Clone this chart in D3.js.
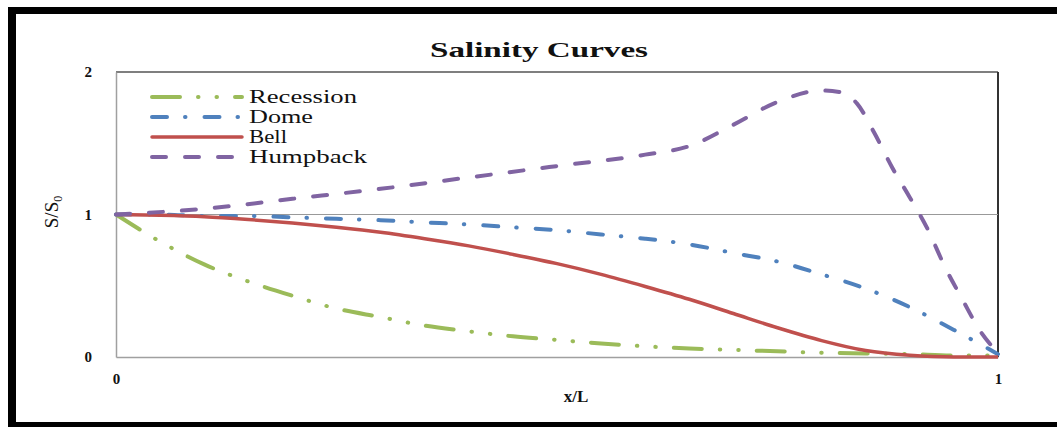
<!DOCTYPE html>
<html>
<head>
<meta charset="utf-8">
<script src="https://cdn.jsdelivr.net/npm/d3@7"></script>
<style>
  html, body { margin: 0; padding: 0; background: #fff; }
  svg { display: block; }
  text { font-family: "Liberation Serif", "Times New Roman", serif; fill: #111; }
</style>
</head>
<body>
<svg id="chart" width="1057" height="427"></svg>
<script>
// Positions along the channel (x/L)
const xs = [0, 0.05, 0.1, 0.15, 0.2, 0.25, 0.3, 0.35, 0.4, 0.45, 0.5, 0.55, 0.6, 0.65, 0.7, 0.75, 0.8, 0.85, 0.9, 0.95, 1];
const recession = [1, 0.81, 0.65, 0.53, 0.43, 0.34, 0.28, 0.22, 0.18, 0.145, 0.12, 0.095, 0.075, 0.06, 0.05, 0.04, 0.03, 0.025, 0.02, 0.01, 0.01];
const dome = [1, 1.0, 0.99, 0.99, 0.98, 0.97, 0.96, 0.945, 0.93, 0.91, 0.89, 0.86, 0.83, 0.79, 0.73, 0.67, 0.58, 0.48, 0.35, 0.19, 0.02];
const bell = [1, 0.995, 0.985, 0.965, 0.94, 0.91, 0.875, 0.83, 0.78, 0.72, 0.655, 0.58, 0.495, 0.405, 0.305, 0.205, 0.115, 0.045, 0.012, 0.0, 0.0];
// Humpback is sampled more finely near its peak
const xsHump = [0, 0.1, 0.2, 0.3, 0.4, 0.5, 0.6, 0.65, 0.7, 0.75, 0.8, 0.82, 0.84, 0.86, 0.88, 0.9, 0.92, 0.94, 0.96, 0.98, 1];
const humpback = [1, 1.04, 1.11, 1.18, 1.26, 1.34, 1.42, 1.48, 1.63, 1.79, 1.87, 1.86, 1.78, 1.57, 1.33, 1.12, 0.9, 0.63, 0.4, 0.18, 0.03];

const seriesNames = ["Recession", "Dome", "Bell", "Humpback"];
const legendWidths = [108, 64, 38, 118];
const xTicks = [0, 1];
const yTicks = [0, 1, 2];

const series = [
  { name: seriesNames[0], x: xs, y: recession, color: "#9bbb59", dash: "28,18,0.5,18,0.5,18", width: 4 },
  { name: seriesNames[1], x: xs, y: dome, color: "#4f81bd", dash: "15,18,0.5,19", width: 4 },
  { name: seriesNames[2], x: xs, y: bell, color: "#c0504d", dash: null, width: 3.5 },
  { name: seriesNames[3], x: xsHump, y: humpback, color: "#8064a2", dash: "14,19", width: 4 }
];

const svg = d3.select("#chart");
const W = 1057, H = 427;

// outer frame
svg.append("rect").attr("x", 8).attr("y", 7).attr("width", W - 8).attr("height", 7).attr("fill", "#000");
svg.append("rect").attr("x", 8).attr("y", 7).attr("width", 8).attr("height", H - 7).attr("fill", "#000");
svg.append("rect").attr("x", 8).attr("y", 422).attr("width", W - 8).attr("height", 5).attr("fill", "#000");

const plot = { left: 116, right: 998, top: 72, bottom: 357 };
const x = d3.scaleLinear().domain([0, 1]).range([plot.left, plot.right]);
const y = d3.scaleLinear().domain([0, 2]).range([plot.bottom, plot.top]);

// plot area border
svg.append("line").attr("x1", plot.left).attr("x2", plot.right).attr("y1", plot.top).attr("y2", plot.top)
  .attr("stroke", "#555").attr("stroke-width", 1.5);
svg.append("line").attr("x1", plot.right).attr("x2", plot.right).attr("y1", plot.top).attr("y2", plot.bottom)
  .attr("stroke", "#333").attr("stroke-width", 2);

// gridline at S/S0 = 1
svg.append("line").attr("x1", x(0)).attr("x2", x(1)).attr("y1", y(1)).attr("y2", y(1))
  .attr("stroke", "#999").attr("stroke-width", 1.2);

// axes
const yAxis = svg.append("g").attr("transform", `translate(${plot.left},0)`)
  .call(d3.axisLeft(y).tickValues(yTicks).tickSize(0).tickPadding(24).tickFormat(d3.format("d")));
yAxis.select(".domain").attr("stroke", "#a0a0a0").attr("stroke-width", 1.5);
yAxis.selectAll("text").attr("font-family", "Liberation Serif").attr("font-weight", "bold")
  .attr("font-size", 15).attr("fill", "#111");

const xAxis = svg.append("g").attr("transform", `translate(0,${plot.bottom})`)
  .call(d3.axisBottom(x).tickValues(xTicks).tickSize(0).tickPadding(16).tickFormat(d3.format("d")));
xAxis.select(".domain").attr("stroke", "#a0a0a0").attr("stroke-width", 1.5);
xAxis.selectAll("text").attr("font-family", "Liberation Serif").attr("font-weight", "bold")
  .attr("font-size", 15).attr("fill", "#111");

// series lines
const line = d3.line().curve(d3.curveMonotoneX);
series.forEach(s => {
  const pts = s.x.map((v, i) => [x(v), y(s.y[i])]);
  svg.append("path")
    .attr("d", line(pts))
    .attr("fill", "none")
    .attr("stroke", s.color)
    .attr("stroke-width", s.width)
    .attr("stroke-linecap", s.dash ? "round" : "butt")
    .attr("stroke-linejoin", "round")
    .attr("stroke-dasharray", s.dash);
});

// legend
const legendRows = [97, 117, 137, 157];
series.forEach((s, i) => {
  const ly = legendRows[i];
  svg.append("line").attr("x1", 152).attr("x2", 242).attr("y1", ly).attr("y2", ly)
    .attr("stroke", s.color).attr("stroke-width", s.width)
    .attr("stroke-linecap", "round")
    .attr("stroke-dasharray", s.dash);
  svg.append("text").attr("x", 249).attr("y", ly + 6)
    .attr("font-size", 18)
    .attr("textLength", legendWidths[i]).attr("lengthAdjust", "spacingAndGlyphs")
    .text(s.name);
});

// title
svg.append("text").attr("x", 539).attr("y", 57).attr("text-anchor", "middle")
  .attr("font-size", 21).attr("font-weight", "bold")
  .attr("textLength", 218).attr("lengthAdjust", "spacingAndGlyphs")
  .text("Salinity Curves");

// x axis title
svg.append("text").attr("x", 576).attr("y", 402).attr("text-anchor", "middle")
  .attr("font-size", 17).attr("font-weight", "bold")
  .text("x/L");

// y axis title with subscript
const yt = svg.append("text")
  .attr("transform", "translate(58,212) rotate(-90)")
  .attr("text-anchor", "middle")
  .attr("font-size", 19);
yt.append("tspan").text("S/S");
yt.append("tspan").attr("font-size", 12).attr("dy", 4).text("0");
</script>
</body>
</html>
